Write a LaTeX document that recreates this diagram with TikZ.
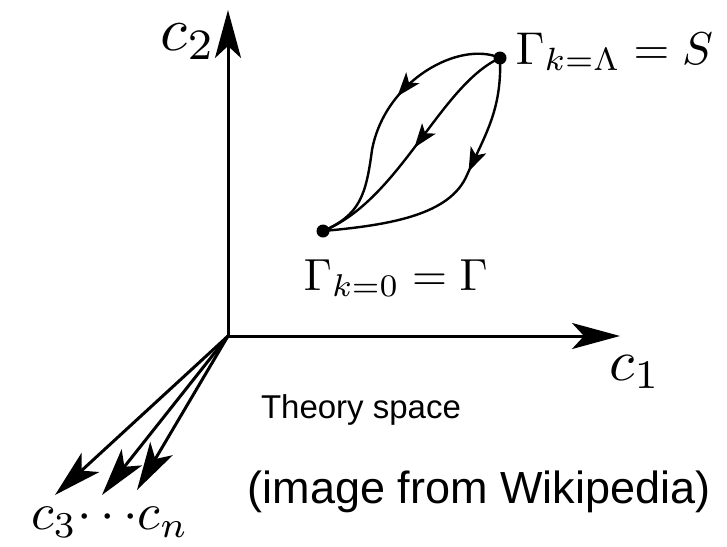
\documentclass[tikz,border=0pt]{standalone}
\usepackage{fontspec}
\setsansfont{Liberation Sans}
\usetikzlibrary{arrows.meta,decorations.markings}
\tikzset{
  axis/.style={line width=3pt,-{Stealth[length=48pt,width=26pt,inset=12pt]}},
  flow/.style={line width=2.4pt},
  dot/.style={circle,fill=black,inner sep=0pt,minimum size=13pt},
  midarrow/.style={postaction={decorate},decoration={markings,mark=at position #1 with {\arrow{Stealth[length=24pt,width=17pt,inset=6pt]}}}},
  lbl/.style={inner sep=0pt},
}
\begin{document}
\begin{tikzpicture}[x=1pt,y=-1pt]
\useasboundingbox (0,0) rectangle (727,546);
\coordinate (O) at (228,336);
\coordinate (c2end) at (228,10);
\coordinate (c1end) at (620,336);
\coordinate (e3) at (55,495);
\coordinate (e4) at (102,495);
\coordinate (e5) at (137,490);
\draw[axis] (O) -- (c2end);
\draw[axis] (O) -- (c1end);
\draw[axis] (O) -- (e3);
\draw[axis] (O) -- (e4);
\draw[axis] (O) -- (e5);
\node[lbl,scale=6.2] (lc2) at (188,42) {$c_2$};
\node[lbl,scale=5.8] (lc1) at (635,372) {$c_1$};
\node[lbl,scale=5.2] (lc3) at (110,522) {$c_3{\cdots}c_n$};
\node[lbl] (ts) at (361,410) {\fontsize{33}{33}\selectfont\sffamily Theory space};
\node[lbl] (wiki) at (479,492) {\fontsize{45}{45}\selectfont\sffamily (image from Wikipedia)};
\node[dot] (S) at (500,58) {};
\node[dot] (G) at (323,231) {};
\node[lbl,scale=4.6,anchor=base west] (lS) at (515,64) {$\Gamma_{k=\Lambda}=S$};
\node[lbl,scale=4.5,anchor=base west] (lG) at (303,290) {$\Gamma_{k=0}=\Gamma$};
\draw[flow,midarrow=0.42] (S.center) .. controls (460,40) and (385,80) .. (372,150) .. controls (366,195) and (360,215) .. (G.center);
\draw[flow,midarrow=0.5] (S.center) .. controls (440,85) and (400,200) .. (G.center);
\draw[flow,midarrow=0.42] (S.center) .. controls (502,110) and (485,135) .. (467,175) .. controls (450,215) and (390,225) .. (G.center);
\end{tikzpicture}
\end{document}
